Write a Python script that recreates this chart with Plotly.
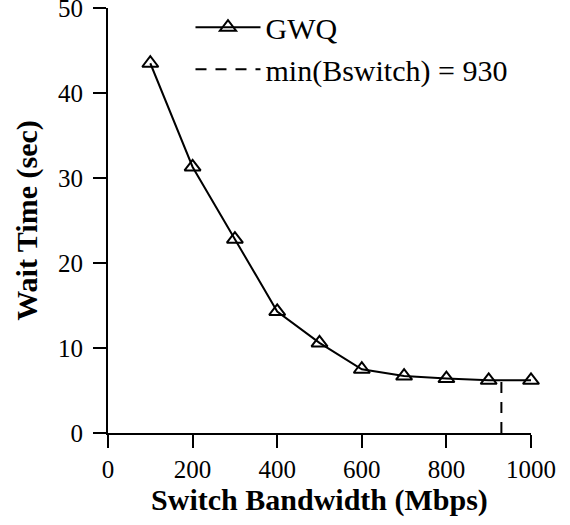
import plotly.graph_objects as go

bandwidth = [100, 200, 300, 400, 500, 600, 700, 800, 900, 1000]
wait_time = [43.5, 31.3, 22.8, 14.3, 10.6, 7.5, 6.7, 6.4, 6.2, 6.2]
min_bswitch = 930
min_wait = 6.2
x_ticks = [0, 200, 400, 600, 800, 1000]
y_ticks = [0, 10, 20, 30, 40, 50]

FONT = "Liberation Serif, Times New Roman, serif"

fig = go.Figure()
fig.add_trace(go.Scatter(
    x=bandwidth, y=wait_time, mode="lines+markers", name="GWQ",
    line=dict(color="black", width=2),
    marker=dict(symbol="triangle-up-open", size=14, color="black", line=dict(width=2)),
    cliponaxis=False,
))
fig.add_trace(go.Scatter(
    x=[min_bswitch, min_bswitch], y=[0, min_wait], mode="lines",
    name="min(Bswitch) = 930",
    line=dict(color="black", width=2, dash="11px,9px"),
    cliponaxis=False,
))

fig.update_layout(
    width=570, height=525,
    margin=dict(l=108, r=39, t=8, b=92, autoexpand=False),
    plot_bgcolor="white", paper_bgcolor="white",
    font=dict(family=FONT, size=25, color="black"),
    showlegend=True,
    legend=dict(x=0.195, y=1.016, xanchor="left", yanchor="top",
                bgcolor="rgba(0,0,0,0)", font=dict(size=30, family=FONT),
                itemwidth=65, tracegroupgap=0),
    xaxis=dict(range=[0, 1000], tickvals=x_ticks, ticks="outside", ticklen=13,
               tickwidth=2, tickcolor="black", showline=True, linecolor="black",
               linewidth=2, showgrid=False, zeroline=False, automargin=False,
               ticklabeloverflow="allow",
               tickfont=dict(size=25, family=FONT),
               title=dict(text="<b>Switch Bandwidth (Mbps)</b>", font=dict(size=30, family=FONT), standoff=6)),
    yaxis=dict(range=[0, 50], tickvals=y_ticks, ticks="outside", ticklen=13,
               tickwidth=2, tickcolor="black", showline=True, linecolor="black",
               linewidth=2, showgrid=False, zeroline=False, ticklabelstandoff=5,
               automargin=False, ticklabeloverflow="allow",
               tickfont=dict(size=25, family=FONT),
               title=dict(text="<b>Wait Time (sec)</b>", font=dict(size=30, family=FONT), standoff=12)),
)

fig.write_html("out.html")
